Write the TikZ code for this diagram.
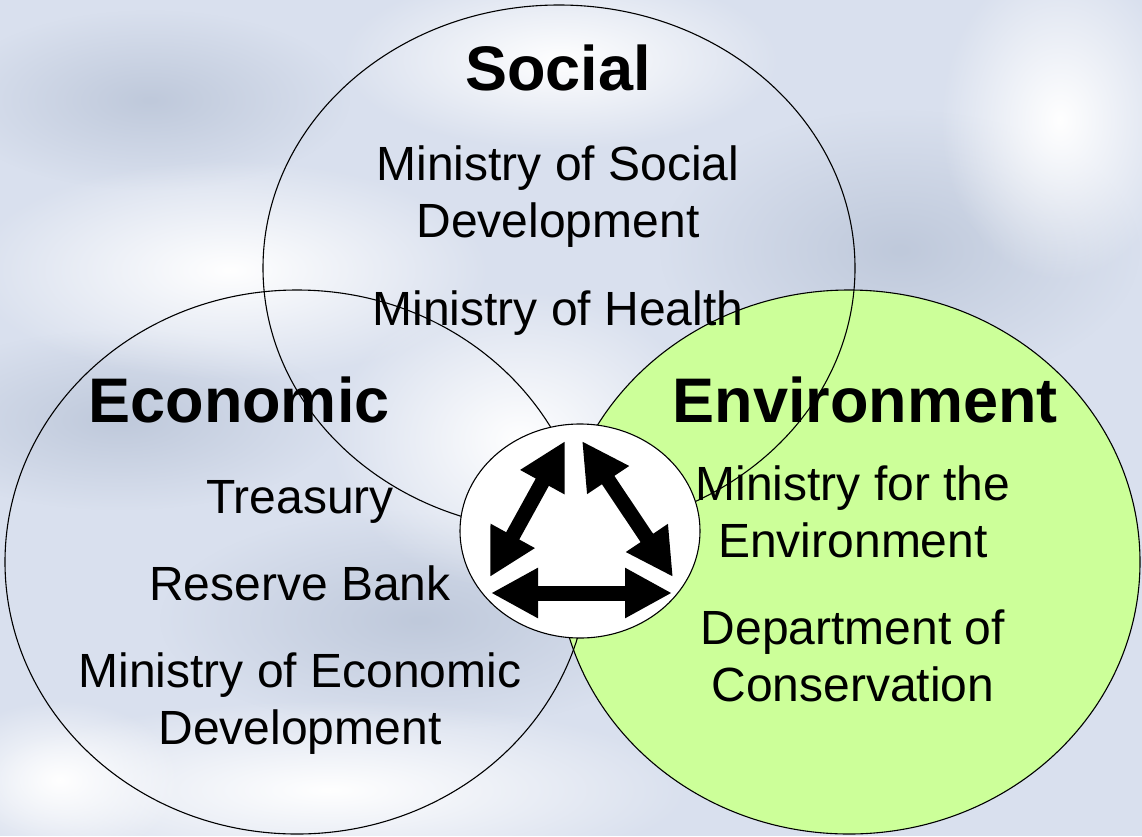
\documentclass[tikz,border=0pt]{standalone}
\usepackage{fontspec}
\setmainfont{Liberation Sans}
\usetikzlibrary{shapes.geometric,arrows.meta,fadings}
\definecolor{bgblue}{HTML}{D9E0EE}
\definecolor{bgdark}{HTML}{BFC9DB}
\definecolor{envgreen}{HTML}{CCFF99}
\tikzfading[name=softblob, inner color=transparent!0, outer color=transparent!100]
\tikzset{
  venn/.style={ellipse, draw=black, line width=1.1pt, inner sep=0pt},
  heading/.style={font=\fontsize{63}{70}\selectfont\bfseries, anchor=base, inner sep=0pt},
  item/.style={font=\fontsize{48}{57}\selectfont, anchor=base, inner sep=0pt},
  link/.style={line width=15pt, {Triangle[length=47pt,width=47pt]}-{Triangle[length=47pt,width=47pt]}},
  glow/.style={fill=white, path fading=softblob},
  haze/.style={fill=bgdark, path fading=softblob}
}
\begin{document}
\begin{tikzpicture}[x=1pt,y=-1pt]
\useasboundingbox (0,0) rectangle (1142,836);
% background
\fill[bgblue] (0,0) rectangle (1142,836);
\fill[haze] (120,420) ellipse [x radius=220pt, y radius=90pt];
\fill[haze] (900,250) ellipse [x radius=240pt, y radius=140pt];
\fill[haze] (420,620) ellipse [x radius=260pt, y radius=110pt];
\fill[haze] (150,100) ellipse [x radius=200pt, y radius=90pt];
\fill[glow] (230,270) ellipse [x radius=260pt, y radius=110pt];
\fill[glow] (520,440) ellipse [x radius=190pt, y radius=150pt];
\fill[glow] (330,790) ellipse [x radius=360pt, y radius=90pt];
\fill[glow] (560,60) ellipse [x radius=220pt, y radius=90pt];
\fill[glow] (1060,120) ellipse [x radius=120pt, y radius=160pt];
\fill[glow] (60,780) ellipse [x radius=120pt, y radius=80pt];
% venn circles
\node[venn, fill=envgreen, minimum width=582pt, minimum height=544pt] (env) at (849,562) {};
\node[venn, minimum width=592pt, minimum height=526pt] (social) at (559,268) {};
\node[venn, minimum width=584pt, minimum height=544pt] (econ) at (297,562) {};
% headings and items
\node[heading] (socialH) at (558,90) {Social};
\node[item] (s1) at (558,180) {Ministry of Social};
\node[item] (s2) at (558,237) {Development};
\node[item] (s3) at (558,325) {Ministry of Health};
\node[heading] (econH) at (239,422) {Economic};
\node[item] (e1) at (300,513) {Treasury};
\node[item] (e2) at (300,600) {Reserve Bank};
\node[item] (e3) at (300,687) {Ministry of Economic};
\node[item] (e4) at (300,744) {Development};
\node[heading] (envH) at (865,422) {Environment};
\node[item] (v1) at (853,500) {Ministry for the};
\node[item] (v2) at (853,557) {Environment};
\node[item] (v3) at (853,644) {Department of};
\node[item] (v4) at (853,701) {Conservation};
% centre circle with arrows
\node[venn, fill=white, minimum width=240pt, minimum height=214pt] (hub) at (580,531) {};
\coordinate (bl) at (491,593);
\coordinate (br) at (672,593);
\coordinate (lb) at (490,577);
\coordinate (lt) at (565,441);
\coordinate (rt) at (582,441);
\coordinate (rb) at (673,577);
\draw[link] (bl) -- (br);
\draw[link] (lb) -- (lt);
\draw[link] (rt) -- (rb);
\end{tikzpicture}
\end{document}
